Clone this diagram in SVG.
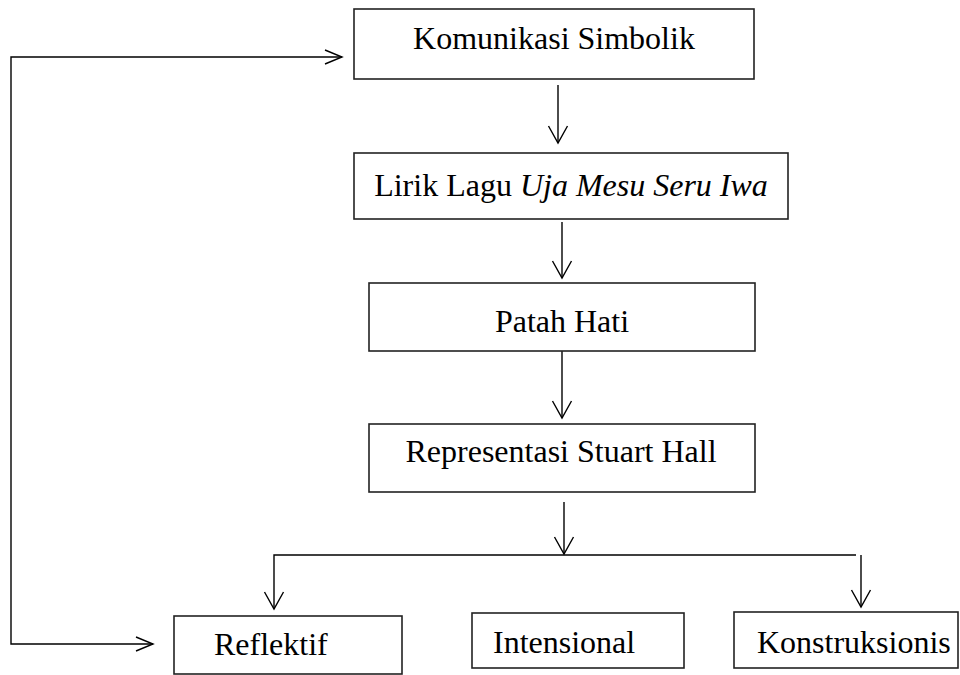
<svg xmlns="http://www.w3.org/2000/svg" width="960" height="675" viewBox="0 0 960 675">
<style>
.box{fill:#fff;stroke:#222;stroke-width:1.6}
.lbl{font-family:"Liberation Serif","Times New Roman",serif;font-size:32px;fill:#000}
.ln{fill:none;stroke:#000;stroke-width:1.4}
</style>
<rect width="960" height="675" fill="#fff"/>
<g id="connectors">
<line class="ln" x1="558" y1="85" x2="558" y2="143"/>
<polyline class="ln" points="548.5,126 558,143 567.5,126"/>
<line class="ln" x1="562" y1="222" x2="562" y2="278"/>
<polyline class="ln" points="552.5,261 562,278 571.5,261"/>
<line class="ln" x1="562" y1="351" x2="562" y2="418"/>
<polyline class="ln" points="552.5,401 562,418 571.5,401"/>
<line class="ln" x1="564" y1="502" x2="564" y2="554"/>
<polyline class="ln" points="554.5,537 564,554 573.5,537"/>
<polyline class="ln" points="274,609 274,555 856,555"/>
<polyline class="ln" points="264.5,592 274,609 283.5,592"/>
<line class="ln" x1="861" y1="555" x2="861" y2="607"/>
<polyline class="ln" points="851.5,590 861,607 870.5,590"/>
<polyline class="ln" points="342,57 11,57 11,644 153,644"/>
<polyline class="ln" points="325,50 342,57 325,64"/>
<polyline class="ln" points="136,637 153,644 136,651"/>
</g>
<g id="n1"><rect class="box" x="354" y="9" width="400" height="70"/><text class="lbl" x="554" y="49" text-anchor="middle">Komunikasi Simbolik</text></g>
<g id="n2"><rect class="box" x="354" y="153" width="434" height="66"/><text class="lbl" x="571" y="196" text-anchor="middle">Lirik Lagu <tspan font-style="italic">Uja Mesu Seru Iwa</tspan></text></g>
<g id="n3"><rect class="box" x="369" y="283" width="386" height="68"/><text class="lbl" x="562" y="332" text-anchor="middle">Patah Hati</text></g>
<g id="n4"><rect class="box" x="369" y="424" width="386" height="68"/><text class="lbl" x="561" y="462" text-anchor="middle">Representasi Stuart Hall</text></g>
<g id="n5"><rect class="box" x="174" y="616" width="228" height="58"/><text class="lbl" x="214" y="655">Reflektif</text></g>
<g id="n6"><rect class="box" x="472" y="613" width="212" height="55"/><text class="lbl" x="493" y="653">Intensional</text></g>
<g id="n7"><rect class="box" x="734" y="612" width="224" height="56"/><text class="lbl" x="757" y="653">Konstruksionis</text></g>
</svg>
